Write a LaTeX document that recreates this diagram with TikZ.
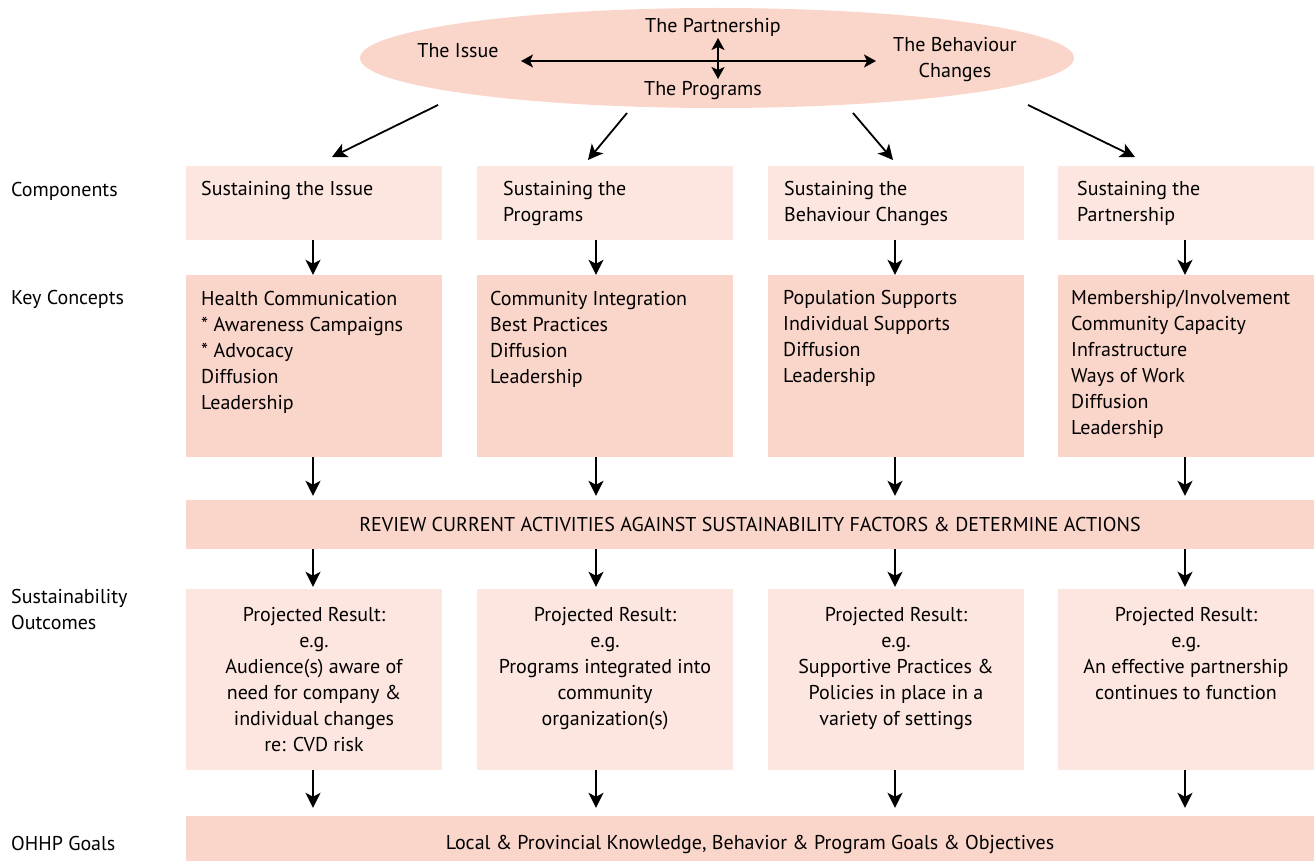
\documentclass[tikz,border=0pt]{standalone}
\usepackage{fontspec}
\setmainfont{PT Sans}
\usepackage{tikz}
\usetikzlibrary{arrows.meta,positioning,calc,shapes.geometric}
\definecolor{palepink}{RGB}{253,230,223}
\definecolor{deeppink}{RGB}{250,213,202}

\begin{document}
\begin{tikzpicture}[
    x=1pt, y=-1pt,
    font=\fontsize{20}{26}\selectfont,
    pale/.style={rectangle, fill=palepink, minimum width=256pt, inner sep=0pt},
    deep/.style={rectangle, fill=deeppink, minimum width=256pt, inner sep=0pt},
    bar/.style={rectangle, fill=deeppink, minimum width=1128pt, inner sep=0pt},
    txt/.style={anchor=north west, align=left, inner sep=0pt},
    ctxt/.style={anchor=north, align=center, inner sep=0pt},
    side/.style={anchor=west, align=left, inner sep=0pt},
    arrow/.style={-{Stealth[length=15pt,width=15pt,inset=4pt]}, line width=1.8pt},
    dblarrow/.style={{Stealth[length=12pt,width=13pt,inset=3pt]}-{Stealth[length=12pt,width=13pt,inset=3pt]}, line width=1.8pt}
]
    \useasboundingbox (0,0) rectangle (1315,861);

    % Top ellipse
    \node[ellipse, fill=deeppink, minimum width=714pt, minimum height=100pt, inner sep=0pt] (ell) at (717,58) {};
    \node[inner sep=0pt] (issue) at (458,51) {The Issue};
    \node[inner sep=0pt] (partner) at (713,27) {The Partnership};
    \node[inner sep=0pt, align=center] (behav) at (955,60) {The Behaviour\\Changes};
    \node[inner sep=0pt] (progs) at (703,91) {The Programs};
    \coordinate (hl) at (521,61);
    \coordinate (hr) at (876,61);
    \coordinate (vt) at (718,38);
    \coordinate (vb) at (718,79);
    \draw[dblarrow] (hl) -- (hr);
    \draw[dblarrow] (vt) -- (vb);

    % Side labels
    \node[side] (lcomp) at (11,191) {Components};
    \node[side] (lkey) at (11,299) {Key Concepts};
    \node[side] (lout) at (11,609) {Sustainability\\Outcomes};
    \node[side] (lgoal) at (11,843) {OHHP Goals};

    % Components
    \node[pale, minimum height=74pt] (c1) at (314,203) {};
    \node[pale, minimum height=74pt] (c2) at (605,203) {};
    \node[pale, minimum height=74pt] (c3) at (896,203) {};
    \node[pale, minimum height=74pt] (c4) at (1186,203) {};
    \node[txt] (ct1) at (201,181) {Sustaining the Issue};
    \node[txt] (ct2) at (503,181) {Sustaining the\\Programs};
    \node[txt] (ct3) at (784,181) {Sustaining the\\Behaviour Changes};
    \node[txt] (ct4) at (1077,181) {Sustaining the\\Partnership};

    % Key concepts
    \node[deep, minimum height=182pt] (k1) at (314,366) {};
    \node[deep, minimum height=182pt] (k2) at (605,366) {};
    \node[deep, minimum height=182pt] (k3) at (896,366) {};
    \node[deep, minimum height=182pt] (k4) at (1186,366) {};
    \node[txt] (kt1) at (201,291) {Health Communication\\* Awareness Campaigns\\* Advocacy\\Diffusion\\Leadership};
    \node[txt] (kt2) at (490,291) {Community Integration\\Best Practices\\Diffusion\\Leadership};
    \node[txt] (kt3) at (783,290) {Population Supports\\Individual Supports\\Diffusion\\Leadership};
    \node[txt] (kt4) at (1071,290) {Membership/Involvement\\Community Capacity\\Infrastructure\\Ways of Work\\Diffusion\\Leadership};

    % Review bar
    \node[bar, minimum height=49pt] (rev) at (750,524.5) {REVIEW CURRENT ACTIVITIES AGAINST SUSTAINABILITY FACTORS \& DETERMINE ACTIONS};

    % Outcomes
    \node[pale, minimum height=181pt] (o1) at (314,679.5) {};
    \node[pale, minimum height=181pt] (o2) at (605,679.5) {};
    \node[pale, minimum height=181pt] (o3) at (896,679.5) {};
    \node[pale, minimum height=181pt] (o4) at (1186,679.5) {};
    \node[ctxt] (ot1) at (314,607) {Projected Result:\\e.g.\\Audience(s) aware of\\need for company \&\\individual changes\\re: CVD risk};
    \node[ctxt] (ot2) at (605,607) {Projected Result:\\e.g.\\Programs integrated into\\community\\organization(s)};
    \node[ctxt] (ot3) at (896,607) {Projected Result:\\e.g.\\Supportive Practices \&\\Policies in place in a\\variety of settings};
    \node[ctxt] (ot4) at (1186,607) {Projected Result:\\e.g.\\An effective partnership\\continues to function};

    % Goals bar
    \node[bar, minimum height=56pt] (goal) at (750,844) {Local \& Provincial Knowledge, Behavior \& Program Goals \& Objectives};

    % Arrows from the ellipse
    \coordinate (e1) at (438,105);
    \coordinate (e2) at (627,113);
    \coordinate (e3) at (853,113);
    \coordinate (e4) at (1028,105);
    \coordinate (a1) at (332,157);
    \coordinate (a2) at (588,160);
    \coordinate (a3) at (893,160);
    \coordinate (a4) at (1135,157);
    \draw[arrow] (e1) -- (a1);
    \draw[arrow] (e2) -- (a2);
    \draw[arrow] (e3) -- (a3);
    \draw[arrow] (e4) -- (a4);

    % Row to row
    \draw[arrow] ([xshift=-1pt]c1.south) -- ([xshift=-1pt]k1.north);
    \draw[arrow] ([xshift=-9pt]c2.south) -- ([xshift=-9pt]k2.north);
    \draw[arrow] ([xshift=-1pt]c3.south) -- ([xshift=-1pt]k3.north);
    \draw[arrow] ([xshift=-1pt]c4.south) -- ([xshift=-1pt]k4.north);
    \draw[arrow, shorten >=4pt] ([xshift=-1pt]k1.south) -- ([xshift=-1pt]k1.south |- rev.north);
    \draw[arrow, shorten >=4pt] ([xshift=-9pt]k2.south) -- ([xshift=-9pt]k2.south |- rev.north);
    \draw[arrow, shorten >=4pt] ([xshift=-1pt]k3.south) -- ([xshift=-1pt]k3.south |- rev.north);
    \draw[arrow, shorten >=4pt] ([xshift=-1pt]k4.south) -- ([xshift=-1pt]k4.south |- rev.north);
    \draw[arrow, shorten >=2pt] ([xshift=-1pt]o1.north |- rev.south) -- ([xshift=-1pt]o1.north);
    \draw[arrow, shorten >=2pt] ([xshift=-9pt]o2.north |- rev.south) -- ([xshift=-9pt]o2.north);
    \draw[arrow, shorten >=2pt] ([xshift=-1pt]o3.north |- rev.south) -- ([xshift=-1pt]o3.north);
    \draw[arrow, shorten >=2pt] ([xshift=-1pt]o4.north |- rev.south) -- ([xshift=-1pt]o4.north);
    \draw[arrow, shorten >=8pt] ([xshift=-1pt]o1.south) -- ([xshift=-1pt]o1.south |- goal.north);
    \draw[arrow, shorten >=8pt] ([xshift=-9pt]o2.south) -- ([xshift=-9pt]o2.south |- goal.north);
    \draw[arrow, shorten >=8pt] ([xshift=-1pt]o3.south) -- ([xshift=-1pt]o3.south |- goal.north);
    \draw[arrow, shorten >=8pt] ([xshift=-1pt]o4.south) -- ([xshift=-1pt]o4.south |- goal.north);
\end{tikzpicture}
\end{document}
